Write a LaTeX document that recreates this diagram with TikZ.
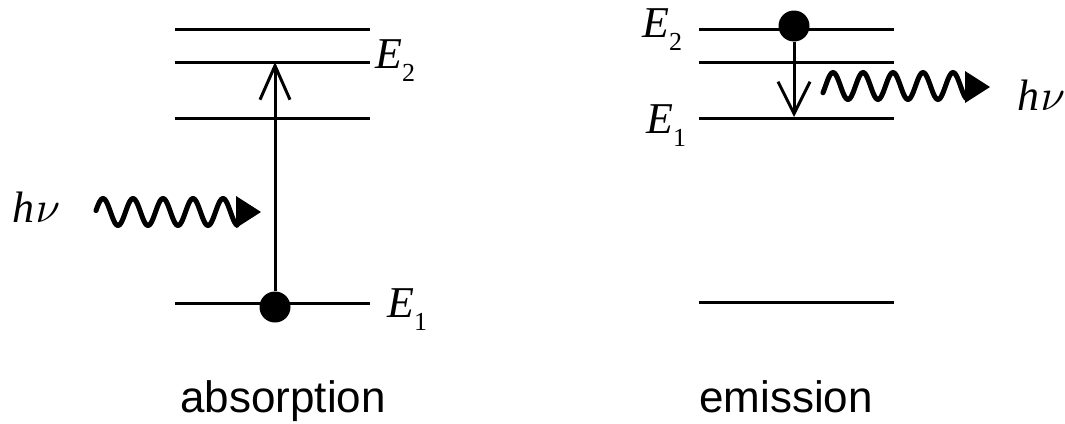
\documentclass[tikz,border=0pt]{standalone}
\usepackage{graphicx}
\usepackage{fontspec}
\setsansfont{Liberation Sans}
\newfontfamily\tnr{Liberation Serif}
\usetikzlibrary{arrows.meta}
\newcommand\Elab[1]{E\raisebox{-0.3em}{\upshape\fontsize{26}{28}\selectfont #1}}
\newcommand\hnu{h\kern0.03em{\fontsize{10}{12}\selectfont\scalebox{4.4}{$\nu$}}}
\begin{document}
\begin{tikzpicture}[x=1pt,y=-1pt,
  level/.style={line width=3pt},
  trans/.style={line width=3pt},
  dotn/.style={circle, fill=black, inner sep=0pt, minimum size=31pt},
  wave/.style={line width=5pt, line join=round, line cap=round},
  lbl/.style={inner sep=0pt, anchor=base west, font=\tnr\itshape\fontsize{44}{50}\selectfont},
  caption/.style={inner sep=0pt, anchor=base, font=\sffamily\fontsize{44}{50}\selectfont}]
\useasboundingbox (0,0) rectangle (1065,423);
% absorption levels
\draw[level] (175,29) -- (370,29);
\draw[level] (175,62) -- (370,62);
\draw[level] (175,118) -- (370,118);
\draw[level] (175,303) -- (370,303);
% emission levels
\draw[level] (699,29) -- (894,29);
\draw[level] (699,62) -- (894,62);
\draw[level] (699,118) -- (894,118);
\draw[level] (699,302) -- (894,302);
% absorption transition
\node[dotn] (a1) at (275,307) {};
\coordinate (a2) at (275,62);
\draw[trans, -{Straight Barb[length=34pt,width=30pt]}] (a1) -- (a2);
% emission transition
\node[dotn] (e2) at (794,26) {};
\coordinate (e1) at (794,117);
\draw[trans, -{Straight Barb[length=32pt,width=32pt]}] (e2) -- (e1);
% photons
\draw[wave] plot[domain=96:237, samples=120] (\x, {212 - 13.5*sin(12*(\x-95)-6)});
\fill (236,196) -- (261,212) -- (236,228) -- cycle;
\draw[wave] plot[domain=823:966, samples=120] (\x, {86 - 13.5*sin(12*(\x-833)+90)});
\fill (965,71) -- (990,87) -- (965,103) -- cycle;
% labels
\node[lbl] (E2a) at (375,68) {\Elab{2}};
\node[lbl] (E1a) at (387,317) {\Elab{1}};
\node[lbl] (E2e) at (642,37) {\Elab{2}};
\node[lbl] (E1e) at (646,133) {\Elab{1}};
\node[lbl] (hva) at (12,222) {\hnu};
\node[lbl] (hve) at (1017,110) {\hnu};
\node[caption] (abs) at (283,412) {absorption};
\node[caption] (emi) at (786,412) {emission};
\end{tikzpicture}
\end{document}
